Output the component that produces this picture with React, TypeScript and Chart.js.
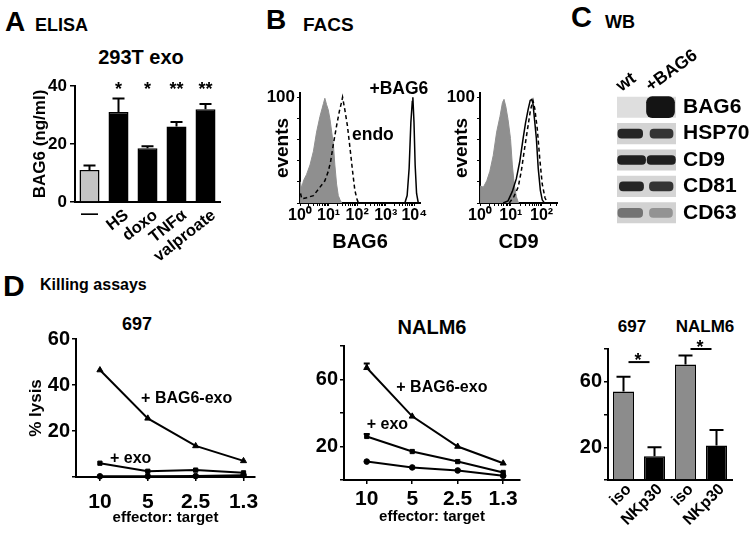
import React, { useEffect, useRef } from 'react';
import { Chart, registerables } from 'chart.js';

Chart.register(...registerables);

const FONT = "'Liberation Sans', Arial, Helvetica, sans-serif";
Chart.defaults.font.family = FONT;
(Chart.defaults.font as any).weight = 'bold';
Chart.defaults.color = '#000';
(Chart.defaults as any).animation = false;
Chart.defaults.plugins.legend.display = false;
Chart.defaults.plugins.tooltip.enabled = false;

// ---------- A: ELISA ----------
const elisaCategories = ['—', 'HS', 'doxo', 'TNFα', 'valproate'];
const elisaValues = [11, 31, 18.5, 26, 32];
const elisaErrors = [1.6, 4.7, 0.7, 1.6, 1.8];
const elisaStars = ['', '*', '*', '**', '**'];
const elisaTicks = [0, 20, 40];

// ---------- B: FACS (x in decades, y in % of max events) ----------
const facsDecadeLabels = ['10⁰', '10¹', '10²', '10³', '10⁴'];
const bag6IsoX = [0, 0.01, 0.06, 0.12, 0.23, 0.35, 0.47, 0.58, 0.7, 0.82, 0.87, 0.93, 0.99, 1.05, 1.11, 1.17, 1.22, 1.28, 1.34, 1.4, 1.46];
const bag6IsoY = [0, 20, 14, 21, 27, 36, 49, 67, 82, 94, 99, 93, 88, 79, 67, 55, 36, 18, 7, 3, 0];
const bag6EndoX = [0.02, 0.06, 0.23, 0.47, 0.7, 0.87, 0.99, 1.07, 1.17, 1.28, 1.38, 1.46, 1.49, 1.57, 1.66, 1.75, 1.84, 1.92, 2.0, 2.05];
const bag6EndoY = [9, 4, 5, 7, 15, 21, 30, 39, 56, 73, 87, 96, 100, 88, 73, 52, 30, 12, 3, 0];
const bag6PlusX = [3.67, 3.75, 3.82, 3.88, 3.93, 3.95, 3.99, 4.03, 4.08, 4.14];
const bag6PlusY = [0, 7, 33, 76, 96, 100, 76, 36, 9, 0];
const bag6Notes = ['+BAG6', 'endo'];
const bag6NoteX = [3.46, 1.82];
const bag6NoteY = [108, 64];

const cd9IsoX = [0, 0.01, 0.11, 0.22, 0.32, 0.43, 0.54, 0.65, 0.73, 0.78, 0.84, 0.91, 0.99, 1.05, 1.11, 1.18, 1.25];
const cd9IsoY = [0, 16, 15, 21, 30, 45, 67, 82, 95, 98, 91, 79, 61, 36, 18, 6, 0];
const cd9PlusX = [0.75, 0.91, 1.05, 1.18, 1.29, 1.4, 1.48, 1.56, 1.63, 1.68, 1.72, 1.77, 1.83, 1.89, 1.96, 2.02, 2.09];
const cd9PlusY = [0, 2, 11, 23, 39, 61, 76, 88, 97, 98, 94, 79, 61, 33, 12, 3, 0];
const cd9WtX = [0.95, 1.1, 1.24, 1.34, 1.45, 1.56, 1.64, 1.72, 1.78, 1.86, 1.94, 2.02, 2.11, 2.19];
const cd9WtY = [0, 6, 15, 30, 52, 73, 88, 97, 89, 70, 42, 18, 5, 0];

// ---------- C: Western blot ----------
const wbRows = ['BAG6', 'HSP70', 'CD9', 'CD81', 'CD63'];
const wbLanes = ['wt', '+BAG6'];
const wbLaneCenters = [0.5, 1.5];
const wbWtBands: any[] = [null, [0.03, 0.87], [0.02, 0.97], [0.08, 0.9], [0.03, 0.87]];
const wbPlusBands: any[] = [null, [1.12, 1.9], [1.02, 1.98], [1.1, 1.9], [1.1, 1.88]];
const wbPlusBlob: any[] = [[1.0, 1.95], null, null, null, null];
const wbWtLevel = [0, 0.92, 0.95, 0.92, 0.55];
const wbPlusLevel = [1, 0.85, 0.95, 0.85, 0.4];

// ---------- D: Killing assays ----------
const effectorRatios = ['10', '5', '2.5', '1.3'];
const lysis697Bag6Exo = [46.5, 25.5, 13.5, 7];
const lysis697Exo = [6, 2.5, 3, 1.8];
const lysis697Ctrl = [0.3, 0.3, 0.4, 0.8];
const lysisNalm6Bag6Exo = [67, 38, 20, 10];
const lysisNalm6Bag6ExoErr = [2.5, 0, 0, 0];
const lysisNalm6Exo = [26, 17, 11, 4.5];
const lysisNalm6ExoErr = [1.5, 0, 0, 0];
const lysisNalm6Ctrl = [11, 7.5, 5.7, 2.5];
const d1Notes = ['+ BAG6-exo', '+ exo'];
const d1NoteX = [0.86, 0.21];
const d1NoteY = [34.3, 7.8];
const d2Notes = ['+ BAG6-exo', '+ exo'];
const d2NoteX = [0.65, 0.0];
const d2NoteY = [54.9, 32.8];

const blockCategories = ['iso', 'NKp30', 'iso', 'NKp30'];
const blockValues = [54, 14.5, 70.5, 21];
const blockErrors = [9, 5.5, 5.5, 9.5];
const blockSigPairs = [[0, 1], [2, 3]];
const blockSigHeights = [72, 80];

// ---------- helpers ----------
const fixWidth = (w: number) => (s: any) => { s.width = w; s.paddingTop = 0; s.paddingBottom = 0; };
const fixHeight = (h: number) => (s: any) => { s.height = h; s.paddingLeft = 0; s.paddingRight = 0; };
const setTicks = (vals: number[]) => (s: any) => { s.ticks = vals.map((v) => ({ value: v })); };
const pts = (xs: number[], ys: number[]) => xs.map((x, i) => ({ x, y: ys[i] }));
const shade = (k: number) => { const g = Math.round(232 - k * 212); return `rgb(${g},${g},${g})`; };
const axisGrid = (len: number) => ({ display: true, drawOnChartArea: false, drawTicks: true, tickLength: len, color: '#000', tickColor: '#000', lineWidth: 1.5 });
const axisBorder = { display: true, color: '#000', width: 2 };

function logTicks(max: number) {
  const t: number[] = [];
  for (let d = 0; d <= Math.floor(max); d++) {
    t.push(d);
    for (let k = 2; k <= 9; k++) { const v = d + Math.log10(k); if (v <= max) t.push(v); }
  }
  return t;
}

const notesPlugin = (id: string, texts: string[], xs: number[], ys: number[], size: number, aligns: string[]) => ({
  id,
  afterDatasetsDraw(chart: any) {
    const { ctx, scales } = chart;
    ctx.save();
    ctx.fillStyle = '#000';
    ctx.font = `bold ${size}px ${FONT}`;
    ctx.textBaseline = 'middle';
    texts.forEach((t, i) => {
      ctx.textAlign = aligns[i];
      ctx.fillText(t, scales.x.getPixelForValue(xs[i]), scales.y.getPixelForValue(ys[i]));
    });
    ctx.restore();
  },
});

// rotated axis labels drawn at the x-scale positions of the given values
const rotatedLabels = (id: string, labels: string[], values: number[], o: any) => ({
  id,
  afterDraw(chart: any) {
    const { ctx, chartArea, scales } = chart;
    ctx.save();
    ctx.fillStyle = '#000';
    ctx.font = `bold ${o.size}px ${FONT}`;
    ctx.textAlign = o.align;
    ctx.textBaseline = 'alphabetic';
    labels.forEach((t, i) => {
      if (!t || (o.skip && o.skip.includes(i))) return;
      const x = scales.x.getPixelForValue(values[i]) + o.dx;
      const y = (o.fromTop ? chartArea.top : chartArea.bottom) + o.dy;
      ctx.save();
      ctx.translate(x, y);
      ctx.rotate((-o.angle * Math.PI) / 180);
      ctx.fillText(t, 0, 0);
      ctx.restore();
    });
    ctx.restore();
  },
});

function drawErrors(chart: any, dsIndex: number, values: number[], errors: number[], cap: number) {
  const { ctx, scales } = chart;
  const meta = chart.getDatasetMeta(dsIndex);
  ctx.save();
  ctx.strokeStyle = '#000';
  ctx.lineWidth = 2;
  meta.data.forEach((el: any, i: number) => {
    if (!errors[i]) return;
    const yTop = scales.y.getPixelForValue(values[i] + errors[i]);
    ctx.beginPath();
    ctx.moveTo(el.x, el.y);
    ctx.lineTo(el.x, yTop);
    ctx.moveTo(el.x - cap, yTop);
    ctx.lineTo(el.x + cap, yTop);
    ctx.stroke();
  });
  ctx.restore();
}

// ---------- chart configs ----------
function elisaConfig(): any {
  return {
    type: 'bar',
    data: {
      labels: elisaCategories,
      datasets: [{
        data: elisaValues,
        backgroundColor: ['#c4c4c4', '#000', '#000', '#000', '#000'],
        borderColor: '#000', borderWidth: 1.5,
        barPercentage: 0.69, categoryPercentage: 1,
      }],
    },
    options: {
      responsive: false, animation: false,
      layout: { padding: { left: 26, right: 20, top: 86, bottom: 0 } },
      scales: {
        x: {
          type: 'category', offset: true,
          grid: { display: false, drawTicks: false }, border: axisBorder,
          ticks: { display: false },
          afterFit: fixHeight(68),
        },
        y: {
          min: 0, max: 40,
          afterBuildTicks: setTicks(elisaTicks),
          grid: axisGrid(5), border: axisBorder,
          ticks: { font: { size: 17, weight: 'bold' }, padding: 3, autoSkip: false },
          title: { display: true, text: 'BAG6 (ng/ml)', font: { size: 17, weight: 'bold' } },
          afterFit: fixWidth(49),
        },
      },
    },
    plugins: [
      rotatedLabels('elisaLabels', elisaCategories, elisaCategories.map((_, i) => i), { size: 16.5, align: 'right', angle: 38, dx: 11, dy: 15, skip: [0] }),
      {
        id: 'elisaDecor',
        afterDatasetsDraw(chart: any) {
          drawErrors(chart, 0, elisaValues, elisaErrors, 6);
          const { ctx, chartArea, scales } = chart;
          const meta = chart.getDatasetMeta(0);
          ctx.save();
          ctx.fillStyle = '#000';
          ctx.textAlign = 'center';
          ctx.font = `bold 18px ${FONT}`;
          ctx.textBaseline = 'alphabetic';
          meta.data.forEach((bar: any, i: number) => { if (elisaStars[i]) ctx.fillText(elisaStars[i], bar.x, chartArea.top + 9); });
          ctx.font = `bold 17px ${FONT}`;
          ctx.textBaseline = 'middle';
          ctx.fillText(elisaCategories[0], scales.x.getPixelForValue(0), chartArea.bottom + 12);
          ctx.restore();
        },
      },
    ],
  };
}

function facsConfig(o: any): any {
  return {
    type: 'line',
    data: {
      datasets: [
        { data: pts(o.isoX, o.isoY), fill: 'origin', backgroundColor: '#8f8f8f', borderColor: '#8f8f8f', borderWidth: 1, pointRadius: 0, tension: 0, order: 3 },
        { data: pts(o.dashX, o.dashY), fill: false, borderColor: '#000', borderWidth: 1.5, borderDash: [4, 3], pointRadius: 0, tension: 0, order: 2 },
        { data: pts(o.solidX, o.solidY), fill: false, borderColor: '#000', borderWidth: 1.5, pointRadius: 0, tension: 0, order: 1 },
      ],
    },
    options: {
      responsive: false, animation: false,
      layout: { padding: { left: o.padLeft, right: o.padRight, top: 33, bottom: 2 } },
      scales: {
        x: {
          type: 'linear', min: 0, max: o.xMax,
          afterBuildTicks: setTicks(logTicks(o.xMax)),
          grid: { ...axisGrid(3), lineWidth: 1 }, border: axisBorder,
          ticks: { font: { size: 16, weight: 'bold' }, padding: 0, autoSkip: false, minRotation: 0, maxRotation: 0,
            callback: (v: number) => (Number.isInteger(v) ? facsDecadeLabels[v] : '') },
          title: { display: true, text: o.title, font: { size: 20, weight: 'bold' } },
          afterFit: fixHeight(55),
        },
        y: {
          min: 0, max: 104,
          afterBuildTicks: setTicks([0, 20, 40, 60, 80, 100]),
          grid: { ...axisGrid(3), lineWidth: 1 }, border: axisBorder,
          ticks: { font: { size: 17, weight: 'bold' }, padding: 2, autoSkip: false, callback: (v: number) => (v === 100 ? '100' : '') },
          title: { display: true, text: 'events', font: { size: 19, weight: 'bold' } },
          afterFit: fixWidth(o.yWidth),
        },
      },
    },
    plugins: o.notes ? [notesPlugin('facsNotes', o.notes, o.noteX, o.noteY, 17.5, ['center', 'left'])] : [],
  };
}

function wbConfig(): any {
  return {
    type: 'bar',
    data: {
      labels: wbRows,
      datasets: [
        { data: wbRows.map(() => [0, 2]), backgroundColor: ['#dedede', '#d3d3d3', '#d0d0d0', '#d5d5d5', '#d2d2d2'], barPercentage: 0.8, categoryPercentage: 1, grouped: false, order: 3, borderSkipped: false },
        { data: wbWtBands, backgroundColor: wbWtLevel.map(shade), barThickness: 9, borderRadius: 4, grouped: false, order: 2, borderSkipped: false },
        { data: wbPlusBands, backgroundColor: wbPlusLevel.map(shade), barThickness: 9, borderRadius: 4, grouped: false, order: 2, borderSkipped: false },
        { data: wbPlusBlob, backgroundColor: wbPlusLevel.map(shade), barThickness: 21, borderRadius: 6, grouped: false, order: 1, borderSkipped: false },
      ],
    },
    options: {
      indexAxis: 'y',
      responsive: false, animation: false,
      layout: { padding: { left: 47, right: 0, top: 0, bottom: 19 } },
      scales: {
        x: {
          type: 'linear', position: 'top', min: 0, max: 2,
          afterBuildTicks: setTicks(wbLaneCenters),
          grid: { display: false, drawTicks: false }, border: { display: false },
          ticks: { display: false },
          afterFit: fixHeight(94),
        },
        y: {
          type: 'category', position: 'right',
          grid: { display: false, drawTicks: false }, border: { display: false },
          ticks: { font: { size: 21, weight: 'bold' }, padding: 7, autoSkip: false },
          afterFit: fixWidth(77),
        },
      },
    },
    plugins: [rotatedLabels('wbLanes', wbLanes, wbLaneCenters, { size: 17.5, align: 'left', angle: 36, dx: -10.5, dy: -2, fromTop: true })],
  };
}

const lineDs = (values: number[], style: string, radius: number) => ({
  data: values.map((y, i) => ({ x: i, y })),
  borderColor: '#000', backgroundColor: '#000', borderWidth: 2,
  pointStyle: style, pointRadius: radius, pointBorderWidth: 1, tension: 0, fill: false, clip: false,
});

function killingConfig(o: any): any {
  return {
    type: 'line',
    data: {
      datasets: [
        lineDs(o.bag6, 'triangle', 3.5),
        lineDs(o.exo, 'rect', 3),
        lineDs(o.ctrl, 'circle', 2.8),
      ],
    },
    options: {
      responsive: false, animation: false,
      layout: { padding: { left: o.padLeft, right: o.padRight, top: o.padTop, bottom: 0 } },
      scales: {
        x: {
          type: 'linear', min: -0.5, max: o.xMax,
          afterBuildTicks: setTicks([0, 1, 2, 3]),
          grid: axisGrid(4), border: axisBorder,
          ticks: { font: { size: 21, weight: 'bold' }, padding: o.xPad, autoSkip: false, minRotation: 0, maxRotation: 0,
            callback: (v: number) => effectorRatios[v] },
          title: { display: true, text: 'effector: target', font: { size: 15, weight: 'bold' }, padding: { top: 0, bottom: o.titlePad } },
          afterFit: fixHeight(o.xHeight),
        },
        y: {
          min: 0, max: o.yMax,
          afterBuildTicks: setTicks(o.yTicks),
          grid: axisGrid(4), border: axisBorder,
          ticks: { font: { size: 20, weight: 'bold' }, padding: 2, autoSkip: false, callback: (v: number) => (o.yLabels.includes(v) ? String(v) : '') },
          title: { display: !!o.yTitle, text: o.yTitle || '', font: { size: 17, weight: 'bold' } },
          afterFit: fixWidth(o.yWidth),
        },
      },
    },
    plugins: [
      notesPlugin('killNotes', o.notes, o.noteX, o.noteY, 16, ['left', 'left']),
      {
        id: 'killErr',
        afterDatasetsDraw(chart: any) {
          if (o.bag6Err) drawErrors(chart, 0, o.bag6, o.bag6Err, 3);
          if (o.exoErr) drawErrors(chart, 1, o.exo, o.exoErr, 3);
        },
      },
    ],
  };
}

function blockConfig(): any {
  return {
    type: 'bar',
    data: {
      labels: blockCategories,
      datasets: [{
        data: blockValues,
        backgroundColor: ['#8c8c8c', '#000', '#8c8c8c', '#000'],
        borderColor: '#000', borderWidth: 1.5,
        barPercentage: 0.68, categoryPercentage: 1,
      }],
    },
    options: {
      responsive: false, animation: false,
      layout: { padding: { left: 40, right: 21, top: 49, bottom: 0 } },
      scales: {
        x: {
          type: 'category', offset: true,
          grid: { display: false, drawTicks: false }, border: axisBorder,
          ticks: { display: false },
          afterFit: fixHeight(56),
        },
        y: {
          min: 0, max: 80,
          afterBuildTicks: setTicks([0, 20, 40, 60, 80]),
          grid: axisGrid(4), border: axisBorder,
          ticks: { font: { size: 20, weight: 'bold' }, padding: 2, autoSkip: false, callback: (v: number) => (v === 20 || v === 60 ? String(v) : '') },
          afterFit: fixWidth(43),
        },
      },
    },
    plugins: [
      rotatedLabels('blockLabels', blockCategories, blockCategories.map((_, i) => i), { size: 16, align: 'right', angle: 45, dx: 8.5, dy: 10 }),
      {
        id: 'blockDecor',
        afterDatasetsDraw(chart: any) {
          drawErrors(chart, 0, blockValues, blockErrors, 7);
          const { ctx, scales } = chart;
          ctx.save();
          ctx.strokeStyle = '#000';
          ctx.fillStyle = '#000';
          ctx.lineWidth = 2;
          ctx.font = `bold 18px ${FONT}`;
          ctx.textAlign = 'center';
          ctx.textBaseline = 'alphabetic';
          blockSigPairs.forEach((pair, i) => {
            const mid = (scales.x.getPixelForValue(pair[0]) + scales.x.getPixelForValue(pair[1])) / 2;
            const y = scales.y.getPixelForValue(blockSigHeights[i]);
            ctx.beginPath();
            ctx.moveTo(mid - 10.5, y);
            ctx.lineTo(mid + 10.5, y);
            ctx.stroke();
            ctx.fillText('*', mid - 1, y + 3.5);
          });
          ctx.restore();
        },
      },
    ],
  };
}

// ---------- components ----------
function ChartCanvas({ left, top, width, height, build }: any) {
  const ref = useRef<HTMLCanvasElement>(null);
  useEffect(() => {
    const chart = new Chart(ref.current as HTMLCanvasElement, build());
    return () => chart.destroy();
  }, []);
  return <canvas ref={ref} width={width} height={height} style={{ position: 'absolute', left, top, width, height }} />;
}

function Txt({ x, capTop, size, children, center }: any) {
  return (
    <div style={{
      position: 'absolute', left: center ? x - 100 : x, top: capTop - 0.13 * size,
      width: center ? 200 : undefined, textAlign: center ? 'center' : 'left',
      fontFamily: FONT, fontWeight: 'bold', fontSize: size, lineHeight: `${size}px`, whiteSpace: 'nowrap', color: '#000',
    }}>{children}</div>
  );
}

export default function App() {
  return (
    <div style={{ position: 'absolute', left: 0, top: 0, width: 753, height: 536, background: '#fff', overflow: 'hidden' }}>
      <Txt x={5} capTop={12} size={28}>A</Txt>
      <Txt x={35} capTop={18} size={18}>ELISA</Txt>
      <Txt x={141} capTop={50} size={20} center>293T exo</Txt>
      <Txt x={266} capTop={10} size={28}>B</Txt>
      <Txt x={303} capTop={17} size={19}>FACS</Txt>
      <Txt x={571} capTop={7} size={29}>C</Txt>
      <Txt x={605} capTop={15} size={18}>WB</Txt>
      <Txt x={3} capTop={275} size={30}>D</Txt>
      <Txt x={40} capTop={279} size={16}>Killing assays</Txt>
      <Txt x={137} capTop={317} size={18} center>697</Txt>
      <Txt x={432} capTop={320} size={20} center>NALM6</Txt>
      <Txt x={632} capTop={320} size={17} center>697</Txt>
      <Txt x={705} capTop={320} size={17} center>NALM6</Txt>

      <ChartCanvas left={0} top={0} width={240} height={270} build={elisaConfig} />
      <ChartCanvas left={245} top={60} width={185} height={200} build={() => facsConfig({
        isoX: bag6IsoX, isoY: bag6IsoY, dashX: bag6EndoX, dashY: bag6EndoY, solidX: bag6PlusX, solidY: bag6PlusY,
        xMax: 4.2, title: 'BAG6', padLeft: 22, yWidth: 33, padRight: 10,
        notes: bag6Notes, noteX: bag6NoteX, noteY: bag6NoteY,
      })} />
      <ChartCanvas left={430} top={60} width={140} height={200} build={() => facsConfig({
        isoX: cd9IsoX, isoY: cd9IsoY, dashX: cd9WtX, dashY: cd9WtY, solidX: cd9PlusX, solidY: cd9PlusY,
        xMax: 2.5, title: 'CD9', padLeft: 16, yWidth: 34, padRight: 13,
      })} />
      <ChartCanvas left={570} top={0} width={183} height={245} build={wbConfig} />
      <ChartCanvas left={0} top={300} width={260} height={236} build={() => killingConfig({
        bag6: lysis697Bag6Exo, exo: lysis697Exo, ctrl: lysis697Ctrl,
        padLeft: 22, padRight: 5, padTop: 39, yWidth: 54, xHeight: 59, xMax: 3.24, xPad: 9, titlePad: 9,
        yMax: 60, yTicks: [0, 20, 40, 60], yLabels: [20, 40, 60], yTitle: '% lysis',
        notes: d1Notes, noteX: d1NoteX, noteY: d1NoteY,
      })} />
      <ChartCanvas left={260} top={300} width={265} height={236} build={() => killingConfig({
        bag6: lysisNalm6Bag6Exo, exo: lysisNalm6Exo, ctrl: lysisNalm6Ctrl,
        bag6Err: lysisNalm6Bag6ExoErr, exoErr: lysisNalm6ExoErr,
        padLeft: 40, padRight: 2, padTop: 46, yWidth: 44, xHeight: 56, xMax: 3.37, xPad: 3, titlePad: 10,
        yMax: 80, yTicks: [0, 20, 40, 60, 80], yLabels: [20, 60],
        notes: d2Notes, noteX: d2NoteX, noteY: d2NoteY,
      })} />
      <ChartCanvas left={525} top={300} width={228} height={236} build={blockConfig} />
    </div>
  );
}
